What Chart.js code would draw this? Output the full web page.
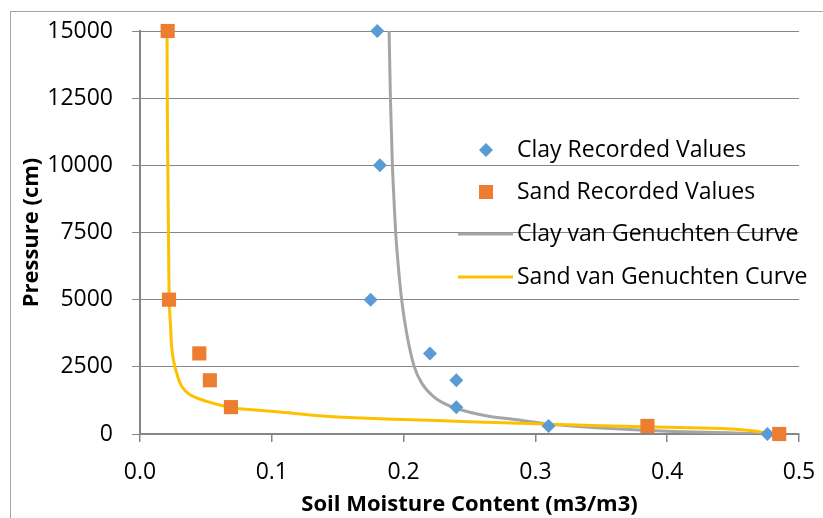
<!DOCTYPE html>
<html>
<head>
<meta charset="utf-8">
<script src="https://cdn.jsdelivr.net/npm/chart.js@4.4.1/dist/chart.umd.min.js"></script>
<style>
  html, body { margin: 0; padding: 0; background: #fff; }
  canvas { display: block; }
</style>
</head>
<body>
<canvas id="chart" width="823" height="518"></canvas>
<script>
// ── DATA ──────────────────────────────────────────────────────────────────
const xTickLabels = ['0.0', '0.1', '0.2', '0.3', '0.4', '0.5'];
const yTickLabels = ['0', '2500', '5000', '7500', '10000', '12500', '15000'];

const clayX = [0.180, 0.182, 0.175, 0.220, 0.240, 0.240, 0.310, 0.476];
const clayY = [15000, 10000, 5000, 3000, 2000, 1000, 300, 0];

const sandX = [0.021, 0.022, 0.045, 0.053, 0.069, 0.385, 0.485];
const sandY = [15000, 5000, 3000, 2000, 1000, 300, 0];

const clayCurveX = [0.1890, 0.1900, 0.1915, 0.1927, 0.1940, 0.1960, 0.1985, 0.2023, 0.2080, 0.2137,
                    0.2225, 0.2327, 0.2479, 0.2656, 0.2860, 0.3100, 0.3500, 0.4000, 0.4500, 0.4760];
const clayCurveY = [15000, 12500, 10000, 8720, 7480, 6240, 5000, 3760, 2515, 1900,
                    1400, 1090, 840, 655, 530, 370, 222, 100, 40, 0];

const sandCurveX = [0.0205, 0.0207, 0.0211, 0.0216, 0.0222, 0.0233, 0.0240, 0.0253, 0.0278, 0.0316,
                    0.0379, 0.0506, 0.0683, 0.0850, 0.1060, 0.1465, 0.2000, 0.2500, 0.3000, 0.3500,
                    0.4000, 0.4480, 0.4650, 0.4780];
const sandCurveY = [15000, 12500, 10000, 7500, 5000, 3884, 3263, 2768, 2272, 1775,
                    1462, 1213, 990, 900, 818, 640, 540, 460, 380, 310,
                    250, 190, 120, 20];

const labels = ['Clay Recorded Values', 'Sand Recorded Values',
                'Clay van Genuchten Curve', 'Sand van Genuchten Curve'];

function pts(xs, ys) {
  return xs.map(function(x, i) { return { x: x, y: ys[i] }; });
}

const FONT = 'Open Sans';

// ── PLUGINS ───────────────────────────────────────────────────────────────
const frame = {
  id: 'frame',
  beforeDraw: function(chart) {
    const c = chart.ctx;
    c.save();
    c.fillStyle = '#fff';
    c.fillRect(0, 0, chart.width, chart.height);
    c.strokeStyle = '#a6a6a6';
    c.lineWidth = 1;
    c.strokeRect(10.5, 11.5, chart.width, chart.height);
    c.restore();
  }
};

const boxLegend = {
  id: 'boxLegend',
  afterDraw: function(chart) {
    const c = chart.ctx;
    const rows = [150, 192, 234, 277];
    c.save();
    c.font = '23px "' + FONT + '"';
    c.textBaseline = 'middle';
    chart.data.datasets.forEach(function(ds, i) {
      const y = rows[i];
      if (ds.showLine) {
        c.strokeStyle = ds.borderColor;
        c.lineWidth = ds.borderWidth;
        c.beginPath();
        c.moveTo(458, y);
        c.lineTo(513, y);
        c.stroke();
      } else if (ds.pointStyle === 'rectRot') {
        c.fillStyle = ds.backgroundColor;
        c.beginPath();
        c.moveTo(486, y - 7);
        c.lineTo(493, y);
        c.lineTo(486, y + 7);
        c.lineTo(479, y);
        c.closePath();
        c.fill();
      } else {
        c.fillStyle = ds.backgroundColor;
        c.fillRect(479, y - 7, 14, 14);
      }
      c.fillStyle = '#000';
      c.fillText(ds.label, 517, y);
    });
    c.restore();
  }
};

// scale paddings are handled by layout.padding instead
function noPad(s) {
  s.paddingLeft = 0; s.paddingRight = 0;
  s.paddingTop = 0; s.paddingBottom = 0;
}

// ── CHART ─────────────────────────────────────────────────────────────────
new Chart(document.getElementById('chart'), {
  type: 'scatter',
  data: {
    datasets: [{
      label:            labels[0],
      data:             pts(clayX, clayY),
      pointStyle:       'rectRot',
      pointRadius:      7,
      pointHoverRadius: 7,
      backgroundColor:  '#5b9bd5',
      borderColor:      '#5b9bd5',
      borderWidth:      0,
      clip:             false,
      order:            1
    }, {
      label:            labels[1],
      data:             pts(sandX, sandY),
      pointStyle:       'rect',
      pointRadius:      10,
      pointHoverRadius: 10,
      backgroundColor:  '#ed7d31',
      borderColor:      '#ed7d31',
      borderWidth:      0,
      clip:             false,
      order:            0
    }, {
      label:            labels[2],
      data:             pts(clayCurveX, clayCurveY),
      showLine:         true,
      pointRadius:      0,
      borderColor:      '#a5a5a5',
      backgroundColor:  '#a5a5a5',
      borderWidth:      3,
      cubicInterpolationMode: 'monotone',
      order:            3
    }, {
      label:            labels[3],
      data:             pts(sandCurveX, sandCurveY),
      showLine:         true,
      pointRadius:      0,
      borderColor:      '#ffc000',
      backgroundColor:  '#ffc000',
      borderWidth:      3,
      tension:          0.4,
      order:            2
    }]
  },
  options: {
    responsive:       false,
    animation:        false,
    devicePixelRatio: 1,
    layout: { padding: { left: 11, top: 31, right: 24, bottom: 0 } },
    plugins: {
      legend:  { display: false },
      tooltip: { enabled: false }
    },
    scales: {
      x: {
        type: 'linear',
        min: 0,
        max: 0.5,
        ticks: {
          stepSize: 0.1,
          padding:  17,
          color:    '#000',
          font:     { family: FONT, size: 23 },
          callback: function(v, i) { return xTickLabels[i]; }
        },
        grid:   { drawOnChartArea: false, tickLength: 8, color: '#868686', lineWidth: 1.5 },
        border: { color: '#868686', width: 2 },
        title: {
          display: true,
          text:    'Soil Moisture Content (m3/m3)',
          color:   '#000',
          font:    { family: FONT, size: 22, weight: 'bold' },
          padding: { top: 0, bottom: 0 }
        },
        afterFit: function(s) { s.height = 84; noPad(s); }
      },
      y: {
        type: 'linear',
        min: 0,
        max: 15000,
        ticks: {
          stepSize: 2500,
          padding:  19,
          color:    '#000',
          font:     { family: FONT, size: 23 },
          callback: function(v, i) { return yTickLabels[i]; }
        },
        grid:   { color: '#868686', lineWidth: 1, tickLength: 8 },
        border: { color: '#868686', width: 2 },
        title: {
          display: true,
          text:    'Pressure (cm)',
          color:   '#000',
          font:    { family: FONT, size: 22, weight: 'bold' },
          padding: { top: 8, bottom: 0 }
        },
        afterFit: function(s) { s.width = 129; noPad(s); }
      }
    }
  },
  plugins: [frame, boxLegend]
});
</script>
</body>
</html>
